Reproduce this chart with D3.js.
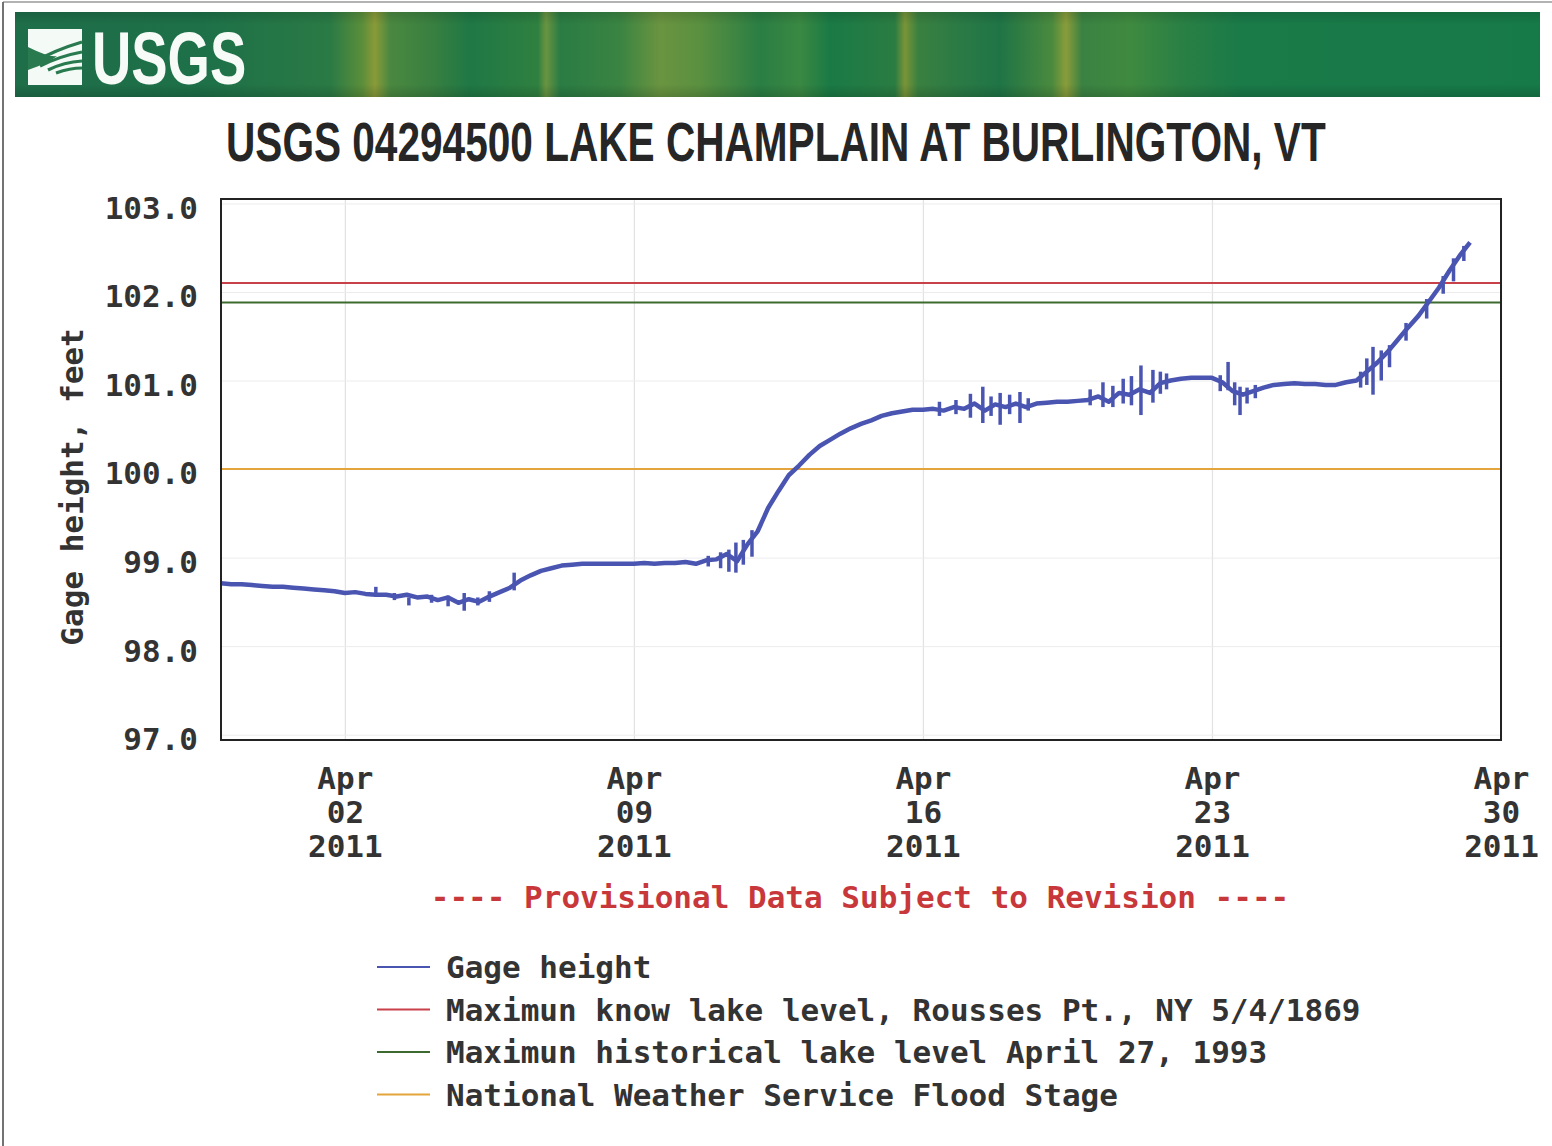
<!DOCTYPE html>
<html>
<head>
<meta charset="utf-8">
<script src="https://cdn.jsdelivr.net/npm/d3@7"></script>
<style>
body { margin: 0; background: #fff; }
svg { display: block; }
.mono { font-family: "DejaVu Sans Mono", monospace; font-weight: bold; }
</style>
</head>
<body>
<svg id="chart" width="1552" height="1146"></svg>
<script>
// gage height, one value every 6 hours from 2011-03-30 00:00
const startTime = new Date(2011, 2, 30);
const gageHeight = [
	98.71, 98.70, 98.70, 98.69,  98.68, 98.67, 98.67, 98.66,  98.65, 98.64, 98.63, 98.62,
	98.60, 98.61, 98.59, 98.58,  98.58, 98.56, 98.58, 98.55,  98.56, 98.52, 98.55, 98.49,
	98.53, 98.50, 98.56, 98.61,  98.66, 98.74, 98.80, 98.85,  98.88, 98.91, 98.92, 98.93,
	98.93, 98.93, 98.93, 98.93,  98.93, 98.94, 98.93, 98.94,  98.94, 98.95, 98.93, 98.97,
	98.98, 99.04, 98.96, 99.15,  99.30, 99.56, 99.75, 99.93,  100.04, 100.16, 100.26, 100.33,
	100.40, 100.46, 100.51, 100.55,  100.60, 100.63, 100.65, 100.67,  100.67, 100.68, 100.66, 100.70,
	100.68, 100.74, 100.66, 100.73,  100.70, 100.74, 100.70, 100.74,  100.75, 100.76, 100.76, 100.77,
	100.78, 100.82, 100.76, 100.86,  100.84, 100.90, 100.86, 100.97,  101.00, 101.02, 101.03, 101.03,
	101.03, 100.98, 100.88, 100.84,  100.88, 100.92, 100.95, 100.96,  100.97, 100.96, 100.96, 100.95,
	100.95, 100.98, 101.00, 101.10,  101.20, 101.32, 101.46, 101.60,  101.73, 101.89, 102.05, 102.24,
	102.41, 102.56
];

// short-term fluctuations: [day offset from Mar 30, low, high]
const spikes = [
	[3.75, 98.56, 98.67], [4.20, 98.52, 98.60], [4.55, 98.46, 98.55], [5.10, 98.49, 98.58],
	[5.50, 98.45, 98.57], [5.89, 98.40, 98.60], [6.22, 98.46, 98.55], [6.50, 98.50, 98.62],
	[7.10, 98.63, 98.83], [11.80, 98.90, 99.02], [12.10, 98.88, 99.06], [12.30, 98.84, 99.09],
	[12.47, 98.83, 99.17], [12.65, 98.92, 99.20], [12.86, 99.01, 99.31],
	[17.40, 100.60, 100.76], [17.80, 100.62, 100.78], [18.15, 100.58, 100.85], [18.45, 100.52, 100.93],
	[18.65, 100.60, 100.82], [18.87, 100.50, 100.86], [19.10, 100.62, 100.84], [19.35, 100.52, 100.87],
	[19.55, 100.66, 100.80], [21.05, 100.72, 100.90], [21.36, 100.70, 100.98], [21.60, 100.70, 100.94],
	[21.85, 100.74, 101.02], [22.05, 100.72, 101.05], [22.28, 100.61, 101.17], [22.57, 100.75, 101.12],
	[22.75, 100.85, 101.10], [22.90, 100.90, 101.08], [24.20, 100.88, 101.06], [24.39, 100.89, 101.21],
	[24.55, 100.72, 100.98], [24.68, 100.61, 100.93], [24.85, 100.74, 100.92], [25.05, 100.80, 100.95],
	[27.60, 100.92, 101.10], [27.75, 100.95, 101.25], [27.90, 100.84, 101.38], [28.10, 101.00, 101.34],
	[28.30, 101.15, 101.40], [28.70, 101.45, 101.65], [29.20, 101.70, 101.92], [29.60, 101.98, 102.18],
	[29.85, 102.12, 102.38], [30.10, 102.35, 102.52]
];

const refLevels = [102.1, 101.88, 100.0];
const refColors = ['#c8404a', '#3d6a2e', '#e4a53c'];
const gageColor = '#4a55b2';

const yTicks = [97, 98, 99, 100, 101, 102, 103];
const xTickDates = [new Date(2011, 3, 2), new Date(2011, 3, 9), new Date(2011, 3, 16), new Date(2011, 3, 23), new Date(2011, 3, 30)];

const legendLabels = [
	'Gage height',
	'Maximun know lake level, Rousses Pt., NY 5/4/1869',
	'Maximun historical lake level April 27, 1993',
	'National Weather Service Flood Stage'
];
const legendColors = [gageColor].concat(refColors);

const margin = { top: 199, right: 51, bottom: 406, left: 221 };
const width = 1552 - margin.left - margin.right;
const height = 1146 - margin.top - margin.bottom;

const svg = d3.select('#chart');

// page border (scan edge)
svg.append('line').attr('x1', 3).attr('y1', 2).attr('x2', 3).attr('y2', 1146).attr('stroke', '#444').attr('stroke-width', 1.5);
svg.append('line').attr('x1', 3).attr('y1', 2).attr('x2', 1552).attr('y2', 2).attr('stroke', '#666').attr('stroke-width', 1);

// banner
const defs = svg.append('defs');
const bannerStops = [
	[15, '#1f6e4a'], [200, '#1d7048'], [330, '#2a7a45'], [362, '#5a8e3a'], [375, '#8a9a38'], [390, '#4a8840'],
	[430, '#3a8040'], [470, '#1f7845'], [538, '#2f8040'], [546, '#6a9440'], [560, '#2a7c44'], [620, '#3a8442'],
	[660, '#6a9440'], [700, '#5a9040'], [760, '#2a7e44'], [800, '#3a8842'], [830, '#1a7a45'], [895, '#2a7c42'],
	[905, '#7a9438'], [918, '#3a8040'], [960, '#2a7a45'], [1000, '#1f7446'], [1052, '#4a8a3e'], [1066, '#8a9c3a'],
	[1082, '#3a8242'], [1130, '#3f8a40'], [1180, '#2a8044'], [1240, '#1a7a48'], [1540, '#167a48']
];
const grad = defs.append('linearGradient').attr('id', 'bannerGrad')
	.attr('gradientUnits', 'userSpaceOnUse').attr('x1', 15).attr('x2', 1540).attr('y1', 0).attr('y2', 0);
grad.selectAll('stop').data(bannerStops).enter().append('stop')
	.attr('offset', d => (d[0] - 15) / 1525)
	.attr('stop-color', d => d[1]);
const shade = defs.append('linearGradient').attr('id', 'bannerShade').attr('x1', 0).attr('x2', 0).attr('y1', 0).attr('y2', 1);
shade.append('stop').attr('offset', 0).attr('stop-color', '#000').attr('stop-opacity', 0.12);
shade.append('stop').attr('offset', 0.15).attr('stop-color', '#000').attr('stop-opacity', 0);
shade.append('stop').attr('offset', 0.85).attr('stop-color', '#000').attr('stop-opacity', 0);
shade.append('stop').attr('offset', 1).attr('stop-color', '#000').attr('stop-opacity', 0.15);

svg.append('rect').attr('x', 15).attr('y', 12).attr('width', 1525).attr('height', 85).attr('fill', 'url(#bannerGrad)');
svg.append('rect').attr('x', 15).attr('y', 12).attr('width', 1525).attr('height', 85).attr('fill', 'url(#bannerShade)');

// logo mark
const logo = svg.append('g');
logo.append('rect').attr('x', 28).attr('y', 29).attr('width', 54).attr('height', 56).attr('fill', '#f4fbf6');
logo.append('path').attr('d', 'M28,47 Q50,58 57,56 Q50,62 28,70 Z').attr('fill', '#2a7a50');
['M34,62 Q55,50 82,42', 'M40,66 Q60,56 82,52', 'M48,70 Q64,62 82,61', 'M56,73 Q70,68 82,68']
	.forEach(d => logo.append('path').attr('d', d).attr('fill', 'none').attr('stroke', '#2a7a50').attr('stroke-width', 3.2));

// condensed lettering: scale horizontally instead of stretching glyph spacing
svg.append('text')
	.attr('transform', 'translate(92,84) scale(0.726,1)')
	.style('font-family', 'Liberation Sans, Arial, sans-serif').style('font-weight', 'bold').style('font-size', '75px')
	.attr('fill', '#f6fbf7')
	.text('USGS');

svg.append('text')
	.attr('transform', 'translate(226,161) scale(0.738,1)')
	.style('font-family', 'Liberation Sans, Arial, sans-serif').style('font-weight', 'bold').style('font-size', '55px')
	.attr('fill', '#262626')
	.text('USGS 04294500 LAKE CHAMPLAIN AT BURLINGTON, VT');

const x = d3.scaleTime()
	.domain([startTime, new Date(2011, 3, 30)])
	.range([0, width]);
const y = d3.scaleLinear()
	.domain([96.94, 103.05])
	.range([height, 0]);

const g = svg.append('g').attr('transform', 'translate(' + margin.left + ',' + margin.top + ')');

// gridlines
g.append('g')
	.attr('class', 'grid')
	.attr('transform', 'translate(0,' + height + ')')
	.call(d3.axisBottom(x).tickValues(xTickDates).tickSize(-height).tickFormat(''))
	.call(s => s.select('.domain').remove())
	.selectAll('line').attr('stroke', '#e2e2e2').attr('stroke-width', 1.2);
g.append('g')
	.attr('class', 'grid')
	.call(d3.axisLeft(y).tickValues(yTicks).tickSize(-width).tickFormat(''))
	.call(s => s.select('.domain').remove())
	.selectAll('line').attr('stroke', '#ececec').attr('stroke-width', 1);

// reference levels
g.selectAll('.ref')
	.data(refLevels)
	.enter()
	.append('line')
	.attr('class', 'ref')
	.attr('x1', 0).attr('x2', width)
	.attr('y1', d => y(d)).attr('y2', d => y(d))
	.attr('stroke', (d, i) => refColors[i])
	.attr('stroke-width', 2);

// gage height series
const gageData = gageHeight.map((v, i) => ({ t: d3.timeHour.offset(startTime, i * 6), v: v }));
const line = d3.line().x(d => x(d.t)).y(d => y(d.v));

g.append('path')
	.datum(gageData)
	.attr('fill', 'none')
	.attr('stroke', gageColor)
	.attr('stroke-width', 4.5)
	.attr('stroke-linejoin', 'round')
	.attr('d', line);

g.selectAll('.spike')
	.data(spikes)
	.enter()
	.append('line')
	.attr('class', 'spike')
	.attr('x1', d => x(d3.timeMinute.offset(startTime, Math.round(d[0] * 1440))))
	.attr('x2', d => x(d3.timeMinute.offset(startTime, Math.round(d[0] * 1440))))
	.attr('y1', d => y(d[1]))
	.attr('y2', d => y(d[2]))
	.attr('stroke', gageColor)
	.attr('stroke-width', 3.5);

// frame
g.append('rect')
	.attr('width', width).attr('height', height)
	.attr('fill', 'none').attr('stroke', '#222').attr('stroke-width', 2);

// y axis labels
g.append('g')
	.attr('class', 'y-axis mono')
	.call(d3.axisLeft(y).tickValues(yTicks).tickSize(0).tickPadding(23).tickFormat(d3.format('.1f')))
	.call(s => s.select('.domain').remove())
	.selectAll('text')
	.attr('dy', '0.48em')
	.style('font-family', '"DejaVu Sans Mono", monospace').style('font-weight', 'bold').style('font-size', '31px')
	.attr('fill', '#333');

// x axis labels, three lines each
const xAxis = g.append('g')
	.attr('class', 'x-axis')
	.attr('transform', 'translate(0,' + height + ')')
	.call(d3.axisBottom(x).tickValues(xTickDates).tickSize(0).tickFormat(''));
xAxis.select('.domain').remove();
xAxis.selectAll('.tick text').remove();
const fmtParts = [d3.timeFormat('%b'), d3.timeFormat('%d'), d3.timeFormat('%Y')];
xAxis.selectAll('.tick')
	.append('text')
	.attr('class', 'mono')
	.attr('text-anchor', 'middle')
	.attr('fill', '#333')
	.style('font-size', '31px')
	.each(function(d) {
		const t = d3.select(this);
		fmtParts.forEach((f, i) => {
			t.append('tspan').attr('x', 0).attr('y', 49 + i * 34).text(f(d));
		});
	});

// y axis title
svg.append('text')
	.attr('class', 'mono')
	.attr('transform', 'translate(83,487) rotate(-90)')
	.attr('text-anchor', 'middle')
	.attr('fill', '#333')
	.style('font-size', '31px')
	.text('Gage height, feet');

// provisional note
svg.append('text')
	.attr('class', 'mono')
	.attr('x', 860).attr('y', 908)
	.attr('text-anchor', 'middle')
	.attr('fill', '#c8383a')
	.style('font-size', '31px')
	.text('---- Provisional Data Subject to Revision ----');

// legend
const legend = svg.append('g').attr('class', 'legend');
const legendRows = legend.selectAll('.legend-row')
	.data(legendLabels)
	.enter()
	.append('g')
	.attr('class', 'legend-row')
	.attr('transform', (d, i) => 'translate(377,' + (967 + i * 42.5) + ')');
legendRows.append('line')
	.attr('x1', 0).attr('x2', 53)
	.attr('stroke', (d, i) => legendColors[i])
	.attr('stroke-width', 2);
legendRows.append('text')
	.attr('class', 'mono')
	.attr('x', 69).attr('y', 11)
	.attr('fill', '#333')
	.style('font-size', '31px')
	.text(d => d);
</script>
</body>
</html>
